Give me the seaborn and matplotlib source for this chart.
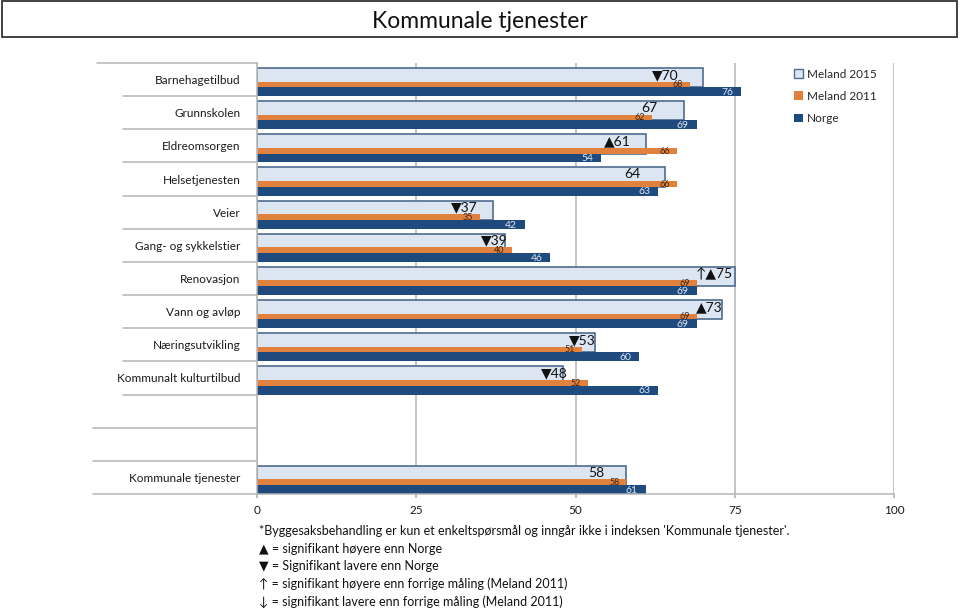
"""
Kommunale tjenester - Meland 2015 vs 2011 vs Norge
"""
import numpy as np
import pandas as pd
import matplotlib
matplotlib.use('Agg')
import matplotlib.pyplot as plt
import seaborn as sns
from matplotlib.patches import Patch, Rectangle

sns.set_theme(style='white')
plt.rcParams['font.family'] = ['Lato', 'DejaVu Sans']

# data
categories = ['Barnehagetilbud', 'Grunnskolen', 'Eldreomsorgen', 'Helsetjenesten', 'Veier',
              'Gang- og sykkelstier', 'Renovasjon', 'Vann og avløp', 'Næringsutvikling',
              'Kommunalt kulturtilbud', 'Kommunale tjenester']
meland_2015 = [70, 67, 61, 64, 37, 39, 75, 73, 53, 48, 58]
meland_2011 = [68, 62, 66, 66, 35, 40, 69, 69, 51, 52, 58]
norge = [76, 69, 54, 63, 42, 46, 69, 69, 60, 63, 61]
marks_2015 = ['▼', '', '▲', '', '▼', '▼', '↑▲', '▲', '▼', '▼', '']
series_names = ['Meland 2015', 'Meland 2011', 'Norge']
x_ticks = [0, 25, 50, 75, 100]
footnotes = ["*Byggesaksbehandling er kun et enkeltspørsmål og inngår ikke i indeksen 'Kommunale tjenester'.",
             '▲ = signifikant høyere enn Norge',
             '▼ = Signifikant lavere enn Norge',
             '↑ = signifikant høyere enn forrige måling (Meland 2011)',
             '↓ = signifikant lavere enn forrige måling (Meland 2011)']

# layout: row slots (10 and 11 stay empty), label nudges for the 2015 labels
rows = list(range(10)) + [12]
shift_2015 = [-3.8, -4.1, -2.3, -3.8, -2.4, 0.4, -0.3, 0.1, 0.1, 0.7, -3.5]

c_light, c_edge = '#dce6f2', '#4f6b8f'
c_orange, c_navy = '#e0823d', '#1f4a7e'
c_grid = '#b5b5b5'

fig = plt.figure(figsize=(9.6, 6.09), dpi=100)
ax = fig.add_axes([257 / 960, 1 - 494 / 609, 637 / 960, 431 / 609])

sns.barplot(x=meland_2015, y=[r + 0.44 for r in rows], orient='y', native_scale=True,
            width=0.58, color=c_light, saturation=1, edgecolor=c_edge, linewidth=1.2,
            errorbar=None, ax=ax)
sns.barplot(x=meland_2011, y=[r + 0.645 for r in rows], orient='y', native_scale=True,
            width=0.17, color=c_orange, saturation=1, linewidth=0, errorbar=None, ax=ax)
sns.barplot(x=norge, y=[r + 0.865 for r in rows], orient='y', native_scale=True,
            width=0.27, color=c_navy, saturation=1, linewidth=0, errorbar=None, ax=ax)

ax.set_xlim(0, 100)
ax.set_ylim(13, 0)
ax.set_xticks(x_ticks)
ax.set_yticks([r + 0.5 for r in rows])
ax.set_yticklabels(categories)
ax.set_xlabel('')
ax.set_ylabel('')
ax.tick_params(axis='y', length=0, pad=12, labelsize=8.5, labelcolor='#1a1a1a')
ax.tick_params(axis='x', length=3, color=c_grid, direction='out', pad=5, labelsize=8.5,
               labelcolor='#1a1a1a', bottom=True)
ax.xaxis.grid(True, color=c_grid, lw=1.1)
ax.set_axisbelow(True)
for s in ['top', 'right']:
    ax.spines[s].set_visible(False)
for s in ['left', 'bottom']:
    ax.spines[s].set_color(c_grid)
    ax.spines[s].set_linewidth(1.1)

# category separators on the left
tr = ax.get_yaxis_transform()
for y in range(14):
    x0 = -0.251 if y == 0 else (-0.21 if y <= 10 else -0.257)
    ax.plot([x0, 0], [y, y], color=c_grid, lw=1.1, transform=tr, clip_on=False)

# value labels
for r, v, m, s in zip(rows, meland_2015, marks_2015, shift_2015):
    ax.text(v + s, r + 0.36, m + str(v), ha='right', va='center', fontsize=10, color='#111111')
for r, v in zip(rows, meland_2011):
    ax.text(v - 1.1, r + 0.655, str(v), ha='right', va='center', fontsize=6.5, color='#3a2614')
for r, v in zip(rows, norge):
    ax.text(v - 1.2, r + 0.89, str(v), ha='right', va='center', fontsize=7.5, color='#dde8f5')

# legend
handles = [Patch(facecolor=c_light, edgecolor=c_edge, linewidth=1.0),
           Patch(facecolor=c_orange, edgecolor='none'),
           Patch(facecolor=c_navy, edgecolor='none')]
fig.legend(handles, series_names, loc='upper left', bbox_to_anchor=(789 / 960, 1 - 64 / 609),
           frameon=False, fontsize=8.5, handlelength=0.75, handleheight=0.75,
           handletextpad=0.35, labelspacing=0.95, borderaxespad=0)

# title box
fig.patches.append(Rectangle((1.5 / 960, 1 - 37 / 609), 955.5 / 960, 36 / 609,
                             transform=fig.transFigure, fill=False, edgecolor='#333333', lw=1.3))
fig.text(0.5, 1 - 22 / 609, 'Kommunale tjenester', ha='center', va='center', fontsize=16.5,
         color='#111111')

# footnotes
for i, t in enumerate(footnotes):
    fig.text(259 / 960, 1 - [531, 549, 566, 584, 602][i] / 609, t, ha='left', va='center',
             fontsize=9, color='#111111')

fig.savefig('out.png', dpi=100)
